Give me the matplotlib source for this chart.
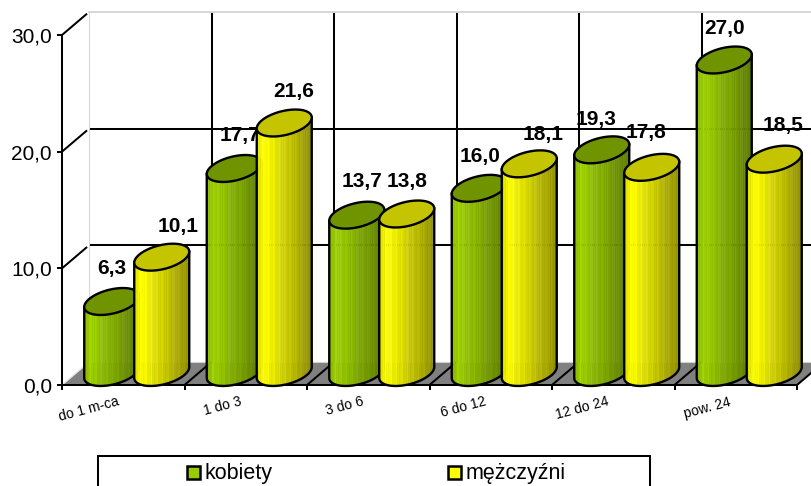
import numpy as np
import matplotlib
matplotlib.use("Agg")
import matplotlib.pyplot as plt
from matplotlib.patches import Polygon, Rectangle
from matplotlib.collections import PolyCollection

plt.rcParams['font.family'] = ['Liberation Sans', 'DejaVu Sans']

# data
categories = ["do 1 m-ca", "1 do 3", "3 do 6", "6 do 12", "12 do 24", "pow. 24"]
kobiety = [6.3, 17.7, 13.7, 16.0, 19.3, 27.0]
mezczyzni = [10.1, 21.6, 13.8, 18.1, 17.8, 18.5]
y_ticks = [0, 10, 20, 30]
series_names = ["kobiety", "mężczyźni"]

# layout (pixels)
W, H = 811, 486
X0, Y0, CAT_W, UNIT_H = 62, 385, 122.5, 11.67
DEPTH_X, DEPTH_Y = 27, 23
A, C, D = 27.5, 5.5, 12.3
BAR_OFF = 25  # half distance between the two cylinder centres
BASE_LIFT = 2.5
GREEN_TOP, GREEN_L, GREEN_R = '#6F9400', np.array([0x9C, 0xCF, 0x00]) / 255, np.array([0x5A, 0x78, 0x00]) / 255
YEL_TOP, YEL_L, YEL_R = '#C4C400', np.array([0xFF, 0xFF, 0x00]) / 255, np.array([0x8C, 0x8C, 0x00]) / 255
LW = 1.45
LW_BAR = 1.7
# label offsets from cylinder top centre, px (right, up)
green_lab = [(0, 33), (6, 33), (5, 34), (1, 32), (-6, 30), (0, 32)]
yellow_lab = [(16, 31), (9, 32), (0, 33), (14, 29), (-6, 35), (9, 34)]

fig = plt.figure(figsize=(W / 100, H / 100), dpi=100, facecolor='white')
ax = fig.add_axes([X0 / W, (H - Y0) / H, (W - X0) / W, 350 / H])
ax.set_xlim(0, (W - X0) / CAT_W)
ax.set_ylim(0, 30)
ax.patch.set_visible(False)
px = 1 / CAT_W
py = 1 / UNIT_H
dx, dy = DEPTH_X * px, DEPTH_Y * py
n = len(categories)

for s in ('top', 'right'):
    ax.spines[s].set_visible(False)
for s in ('left', 'bottom'):
    ax.spines[s].set_linewidth(LW)
    ax.spines[s].set_zorder(2.5)
ax.spines['bottom'].set_bounds(0, n)
ax.set_yticks(y_ticks, [f"{v:.1f}".replace('.', ',') for v in y_ticks], fontsize=15)
ax.tick_params(axis='y', length=3.6, width=LW, pad=3.6, colors='black')
ax.set_xticks(np.arange(n + 1), [''] * (n + 1))
ax.tick_params(axis='x', which='major', length=3.6, width=LW)
ax.set_xticks(np.arange(n) + 0.445, categories, minor=True, rotation=15, ha='right',
              rotation_mode='anchor', fontsize=10)
ax.tick_params(axis='x', which='minor', length=0, pad=7)

K = dict(clip_on=False)
# floor
ax.add_patch(Polygon([(0, 0), (n, 0), (n + dx, dy), (dx, dy)], closed=True, fc='#808080', ec='none', zorder=1, **K))
ax.plot([dx, W], [dy, dy], color='#D0D0D0', lw=0.8, zorder=1, **K)
ax.plot([0, dx], [0, dy], color='#E8E8E8', lw=1.0, zorder=1.2, **K)
for i in range(1, n + 1):
    ax.plot([i, i + dx], [0, dy], color='k', lw=LW, zorder=1.2, **K)
# back wall
ax.plot([dx, dx], [dy, 30 + dy], color='#D8D8D8', lw=0.8, zorder=1, **K)
ax.plot([dx, (W - X0) * px], [30 + dy, 30 + dy], color='#CFCFCF', lw=1.2, zorder=1, **K)
for i in range(1, n):
    ax.plot([i + dx, i + dx], [dy, 30 + dy - 0.2], color='k', lw=LW, zorder=1.1, **K)
for v in y_ticks[1:]:
    ax.plot([0, dx * 0.9], [v, v + dy * 0.9], color='k', lw=LW, zorder=1.1, **K)
for v in y_ticks[1:-1]:
    ax.plot([dx + 2 * px, (W - X0) * px], [v + dy, v + dy], color='k', lw=LW, zorder=1.1, **K)


def shade(u, left, right):
    if u < 0.12:
        col = left * (0.86 + 0.14 * u / 0.12)
    else:
        col = left + (right - left) * (u - 0.12) / 0.88
    return np.clip(col, 0, 1)


def cylinder(cx, v, top, left, right, z):
    base = 10 * py
    lift = BASE_LIFT * py
    xs = np.linspace(-1, 1, 31)
    verts, cols = [], []
    for j in range(len(xs) - 1):
        a, b = xs[j], xs[j + 1]
        la = C * a - D * np.sqrt(1 - a * a)
        lb = C * b - D * np.sqrt(1 - b * b)
        verts.append([(cx + a * A * px, base + lift + la * py), (cx + b * A * px, base + lift + lb * py),
                      (cx + b * A * px, base + v + lb * py), (cx + a * A * px, base + v + la * py)])
        f = 1.05 if j % 3 == 0 else 1.0
        cols.append(np.clip(shade((j + 0.5) / 30, left, right) * f, 0, 1))
    ax.add_collection(PolyCollection(verts, facecolors=cols, edgecolors=cols, linewidths=0.3, zorder=z, clip_on=False),
                      autolim=False)
    t = np.linspace(np.pi, 2 * np.pi, 80)
    ex, ey = A * np.cos(t), C * np.cos(t) + D * np.sin(t)
    ox = np.r_[cx + ex[0] * px, cx + ex * px, cx + ex[-1] * px]
    oy = np.r_[base + v + ey[0] * py, base + lift + ey * py, base + v + ey[-1] * py]
    ax.plot(ox, oy, color='k', lw=LW_BAR, zorder=z + 0.01, solid_joinstyle='round', **K)
    t = np.linspace(0, 2 * np.pi, 120)
    ex, ey = A * np.cos(t), C * np.cos(t) + D * np.sin(t)
    ax.add_patch(Polygon(np.c_[cx + ex * px, base + v + ey * py], closed=True, fc=top, ec='k', lw=LW_BAR, zorder=z + 0.02, **K))


for i in range(n):
    centre = i + 0.5 + dx / 2
    gx = centre - BAR_OFF * px
    yx = centre + BAR_OFF * px
    cylinder(gx, kobiety[i], GREEN_TOP, GREEN_L, GREEN_R, 3)
    cylinder(yx, mezczyzni[i], YEL_TOP, YEL_L, YEL_R, 4)
    for x, v, off, z in ((gx, kobiety[i], green_lab[i], 3.5), (yx, mezczyzni[i], yellow_lab[i], 5)):
        ax.annotate(f"{v:.1f}".replace('.', ','), xy=(x, v + 10 * py), xytext=off, textcoords='offset pixels',
                    ha='center', va='center', fontsize=15, fontweight='bold', zorder=z, annotation_clip=False)

# legend
def fx(p): return p / W
def fy(p): return 1 - p / H
fig.add_artist(Rectangle((fx(98), fy(490)), (650 - 98) / W, (490 - 456) / H, transform=fig.transFigure,
                         fc='white', ec='k', lw=LW))
for xp, name, col in ((187, series_names[0], '#99CC00'), (448, series_names[1], '#FFFF00')):
    fig.add_artist(Rectangle((fx(xp), fy(479)), 13 / W, 13 / H, transform=fig.transFigure, fc=col, ec='k', lw=1.8))
    fig.text(fx(xp + 18), fy(473.5), name, fontsize=15.5, va='center', ha='left')

fig.savefig('out.png', dpi=100)
